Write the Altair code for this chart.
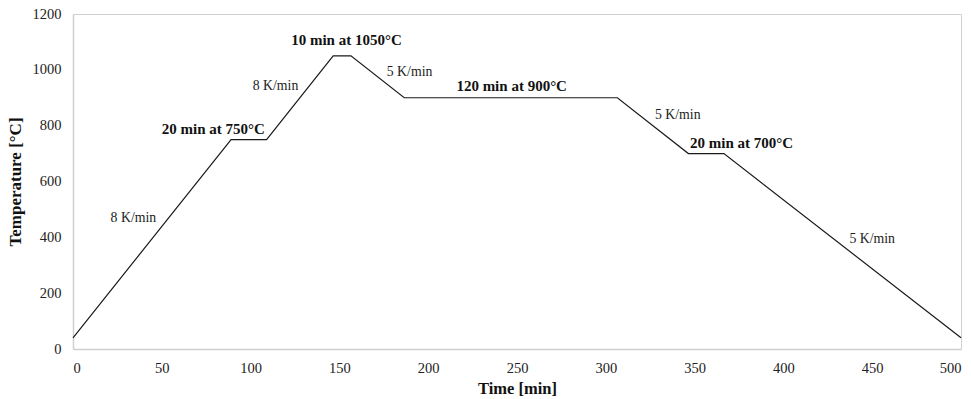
import altair as alt
import pandas as pd

time_min = [0, 89, 109, 146.5, 156.5, 186.5, 306.5, 346.5, 366.5, 500]
temp_c = [40, 750, 750, 1050, 1050, 900, 900, 700, 700, 40]

label_text = ["8 K/min", "20 min at 750°C", "8 K/min", "10 min at 1050°C", "5 K/min",
              "120 min at 900°C", "5 K/min", "20 min at 700°C", "5 K/min"]
label_x = [34, 79, 114, 154, 189.5, 247, 340.5, 376.5, 450]
label_y = [470, 788, 943, 1107, 993, 943, 839, 739, 394]
label_bold = [False, True, False, True, False, True, False, True, False]

df = pd.DataFrame({"t": time_min, "T": temp_c, "order": list(range(len(time_min)))})
lab = pd.DataFrame({"text": label_text, "x": label_x, "y": label_y, "bold": label_bold})

SERIF = "Liberation Serif, Times New Roman, serif"

xs = alt.Scale(domain=[0, 500], nice=False)
ys = alt.Scale(domain=[0, 1200], nice=False)

line = alt.Chart(df).mark_line(color="#1a1a1a", strokeWidth=1.2).encode(
    x=alt.X("t:Q", scale=xs, title="Time [min]",
            axis=alt.Axis(values=list(range(0, 501, 50)), grid=False, ticks=False, format="d",
                          labelPadding=12, titlePadding=6, titleFontSize=16.5)),
    y=alt.Y("T:Q", scale=ys, title="Temperature [°C]",
            axis=alt.Axis(values=list(range(0, 1201, 200)), grid=False, ticks=False, format="d",
                          labelPadding=12, titlePadding=8, titleFontSize=17)),
    order="order:Q",
)

normal = alt.Chart(lab[~lab["bold"]]).mark_text(
    font=SERIF, fontSize=13.8, color="#222222"
).encode(x=alt.X("x:Q", scale=xs), y=alt.Y("y:Q", scale=ys), text="text:N")

bold = alt.Chart(lab[lab["bold"]]).mark_text(
    font=SERIF, fontSize=15, fontWeight="bold", color="#111111"
).encode(x=alt.X("x:Q", scale=xs), y=alt.Y("y:Q", scale=ys), text="text:N")

chart = (line + normal + bold).properties(
    width=888, height=335,
    autosize=alt.AutoSizeParams(type="none"),
    padding={"left": 73, "top": 14, "right": 10, "bottom": 50},
).configure_view(stroke="#d0d0d0", strokeWidth=1).configure_axis(
    labelFont=SERIF, labelFontSize=14.5, labelColor="#222222",
    titleFont=SERIF, titleFontWeight="bold", titleColor="#111111",
    domainColor="#d0d0d0", domainWidth=1.5,
).configure_text(font=SERIF)

chart.save("out.html", embed_options={"renderer": "svg", "actions": False})
